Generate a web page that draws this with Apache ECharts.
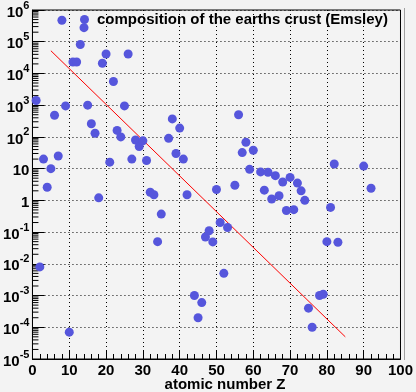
<!DOCTYPE html>
<html><head><meta charset="utf-8">
<script src="https://cdn.jsdelivr.net/npm/echarts@6/dist/echarts.min.js"></script>
<style>html,body{margin:0;padding:0;background:#f3f3f3}#c{width:416px;height:392px}</style>
</head><body><div id="c"></div>
<script>
// atomic number Z
const zValues = [1,2,3,4,5,6,7,8,9,10,11,12,13,14,15,16,17,18,19,20,21,22,23,24,25,26,27,28,29,30,31,32,33,34,35,37,38,39,40,41,42,44,45,46,47,48,49,50,51,52,53,55,56,57,58,59,60,62,63,64,65,66,67,68,69,70,71,72,73,74,75,76,78,79,80,81,82,83,90,92];
// abundance in the earth's crust (mg/kg)
const abundance = [1400,0.008,20,2.6,10,480,25,474000,950,7e-5,23000,23000,82000,277000,1000,260,130,1.2,21000,41000,16,5600,160,100,950,41000,20,80,50,75,18,1.8,1.5,0.05,0.37,90,370,30,190,20,1.5,0.001,0.0002,0.0006,0.07,0.11,0.049,2.2,0.2,0.005,0.14,3,500,32,68,9.5,38,7.9,2.1,7.7,1.1,6,1.4,3.8,0.48,5.3,0.51,3.5,2,1,0.0004,0.0001,0.001,0.0011,0.05,0.6,14,0.048,12,2.4];
// fitted line end points
const fitZ = [5, 85];
const fitY = [5.2e4, 5e-5];
const xTickLabels = ['0','10','20','30','40','50','60','70','80','90','100'];
const seriesName = 'composition of the earths crust (Emsley)';
const xTitle = 'atomic number Z';

const minorY = [];
for (let k = -5; k <= 5; k++) for (let m = 2; m <= 9; m++) minorY.push([0, m * Math.pow(10, k)]);

const FONT = '"Liberation Sans", Arial, sans-serif';
const chart = echarts.init(document.getElementById('c'));
chart.setOption({
  backgroundColor: '#f3f3f3',
  animation: false,
  textStyle: {fontFamily: FONT},
  grid: {left: 31, right: 13, top: 7, bottom: 33, show: true, borderColor: '#000', borderWidth: 1, backgroundColor: 'transparent'},
  legend: {
    data: [seriesName], left: 75, top: 7, icon: 'circle', itemWidth: 9, itemHeight: 9, itemGap: 0,
    textStyle: {fontFamily: FONT, fontWeight: 'bold', fontSize: 15, color: '#000', padding: [0, 0, 0, 3]}
  },
  graphic: [
    {type: 'text', x: 225, y: 385, style: {text: xTitle, font: 'bold 15px ' + FONT, fill: '#000', align: 'center', verticalAlign: 'middle'}},
    {type: 'line', shape: {x1: 404.5, y1: 8, x2: 404.5, y2: 360}, style: {stroke: '#a0a0a0', lineWidth: 1}}
  ],
  xAxis: {
    type: 'value', min: 0, max: 100, interval: 10,
    axisLine: {lineStyle: {color: '#000', width: 1}},
    axisTick: {inside: true, length: 9, lineStyle: {color: '#000'}},
    minorTick: {show: true, splitNumber: 5, length: 5, lineStyle: {color: '#000'}},
    splitLine: {show: true, lineStyle: {color: '#000', type: [1, 3], width: 1}},
    axisLabel: {margin: 4, color: '#000', fontWeight: 'bold', fontSize: 15, fontFamily: FONT,
      formatter: v => xTickLabels[Math.round(v / 10)]}
  },
  yAxis: {
    type: 'log', logBase: 10, min: 1e-5, max: 1e6, interval: 1, splitNumber: 11,
    axisLine: {show: true, lineStyle: {color: '#000', width: 1}},
    axisTick: {inside: true, length: 12, lineStyle: {color: '#000'}},
    splitLine: {show: true, lineStyle: {color: '#000', type: [1, 3], width: 1}},
    axisLabel: {
      margin: 3, color: '#000', fontFamily: FONT,
      formatter: v => {
        const e = Math.round(Math.log10(v));
        if (e === 0) return '{b|1}';
        if (e === 1) return '{b|10}';
        return '{b|10}{s|' + e + '}';
      },
      rich: {
        b: {fontSize: 15, fontWeight: 'bold', color: '#000', fontFamily: FONT, lineHeight: 20, verticalAlign: 'bottom'},
        s: {fontSize: 11, fontWeight: 'bold', color: '#000', fontFamily: FONT, lineHeight: 20, verticalAlign: 'top', padding: [0, 0, 8, 0]}
      }
    }
  },
  series: [
    {
      name: seriesName, type: 'scatter', symbol: 'circle', symbolSize: 9,
      itemStyle: {color: '#5656dc', opacity: 1},
      data: zValues.map((z, i) => [z, abundance[i]]), z: 5
    },
    {
      name: 'fit', type: 'line', showSymbol: false, symbol: 'none',
      lineStyle: {color: '#ff0000', width: 1},
      data: fitZ.map((z, i) => [z, fitY[i]]), z: 4
    },
    {
      name: 'minor', type: 'custom', silent: true, clip: false,
      data: minorY,
      renderItem: (params, api) => {
        const p = api.coord([0, api.value(1)]);
        return {type: 'line', shape: {x1: p[0], y1: p[1], x2: p[0] + 6, y2: p[1]}, style: {stroke: '#000', lineWidth: 1}};
      }
    }
  ]
});
</script></body></html>
